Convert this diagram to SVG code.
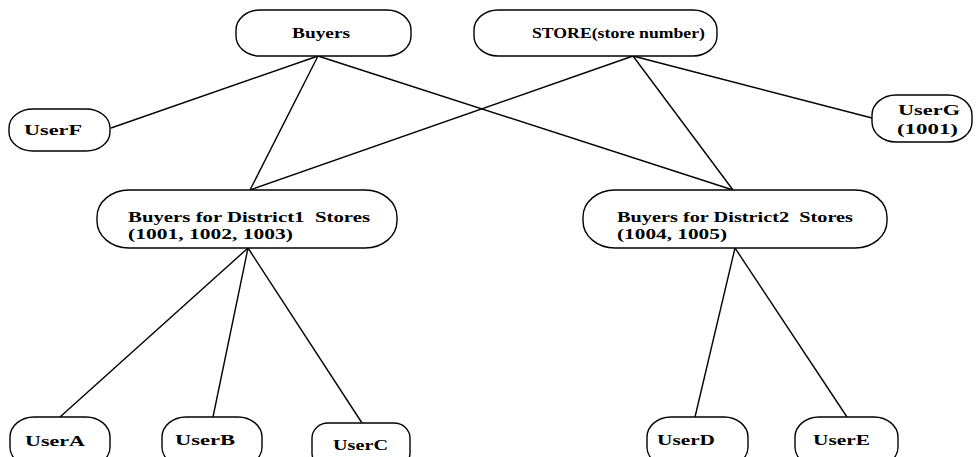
<svg xmlns="http://www.w3.org/2000/svg" width="978" height="457" viewBox="0 0 978 457">
<style>
.n{fill:#fff;stroke:#000;stroke-width:1.4}
.c line{stroke:#000;stroke-width:1.4}
text{font-family:"Liberation Serif","Times New Roman",serif;font-size:15px;font-weight:bold;fill:#000;white-space:pre}
</style>
<rect width="978" height="457" fill="#fff"/>
<g class="c" id="connectors">
<line x1="318" y1="56" x2="111" y2="128"/>
<line x1="318" y1="56" x2="250" y2="190"/>
<line x1="318" y1="56" x2="733" y2="190"/>
<line x1="633" y1="56" x2="250" y2="190"/>
<line x1="633" y1="56" x2="733" y2="190"/>
<line x1="633" y1="56" x2="872" y2="118"/>
<line x1="248" y1="248" x2="60" y2="417"/>
<line x1="248" y1="248" x2="213" y2="417"/>
<line x1="248" y1="248" x2="362" y2="423"/>
<line x1="735" y1="248" x2="695" y2="417"/>
<line x1="735" y1="248" x2="847" y2="417"/>
</g>
<g id="buyers"><rect class="n" x="236" y="10" width="175" height="46" rx="24" ry="20"/><text x="292" y="38" textLength="58" lengthAdjust="spacingAndGlyphs">Buyers</text></g>
<g id="store"><rect class="n" x="474" y="10" width="243" height="46" rx="24" ry="20"/><text x="532" y="38" textLength="173" lengthAdjust="spacingAndGlyphs">STORE(store number)</text></g>
<g id="userF"><rect class="n" x="9" y="109" width="101" height="42" rx="24" ry="19"/><text x="24" y="135" textLength="58" lengthAdjust="spacingAndGlyphs">UserF</text></g>
<g id="userG"><rect class="n" x="872" y="95" width="100" height="47" rx="24" ry="20"/><text x="898" y="115" textLength="62" lengthAdjust="spacingAndGlyphs">UserG</text><text x="897" y="134" textLength="61" lengthAdjust="spacingAndGlyphs">(1001)</text></g>
<g id="district1"><rect class="n" x="97" y="190" width="300" height="58" rx="32" ry="27"/><text x="128" y="222" textLength="242" lengthAdjust="spacingAndGlyphs">Buyers for District1  Stores</text><text x="128" y="239" textLength="165" lengthAdjust="spacingAndGlyphs">(1001, 1002, 1003)</text></g>
<g id="district2"><rect class="n" x="583" y="190" width="304" height="58" rx="32" ry="27"/><text x="617" y="222" textLength="236" lengthAdjust="spacingAndGlyphs">Buyers for District2  Stores</text><text x="617" y="239" textLength="110" lengthAdjust="spacingAndGlyphs">(1004, 1005)</text></g>
<g id="userA"><rect class="n" x="10" y="417" width="100" height="50" rx="24" ry="20"/><text x="25" y="446" textLength="60" lengthAdjust="spacingAndGlyphs">UserA</text></g>
<g id="userB"><rect class="n" x="162" y="417" width="100" height="50" rx="24" ry="20"/><text x="175" y="445" textLength="60" lengthAdjust="spacingAndGlyphs">UserB</text></g>
<g id="userC"><rect class="n" x="312" y="423" width="98" height="45" rx="16" ry="15"/><text x="333" y="450" textLength="55" lengthAdjust="spacingAndGlyphs">UserC</text></g>
<g id="userD"><rect class="n" x="647" y="417" width="101" height="50" rx="24" ry="20"/><text x="657" y="445" textLength="58" lengthAdjust="spacingAndGlyphs">UserD</text></g>
<g id="userE"><rect class="n" x="795" y="417" width="103" height="50" rx="24" ry="20"/><text x="813" y="445" textLength="57" lengthAdjust="spacingAndGlyphs">UserE</text></g>
</svg>
